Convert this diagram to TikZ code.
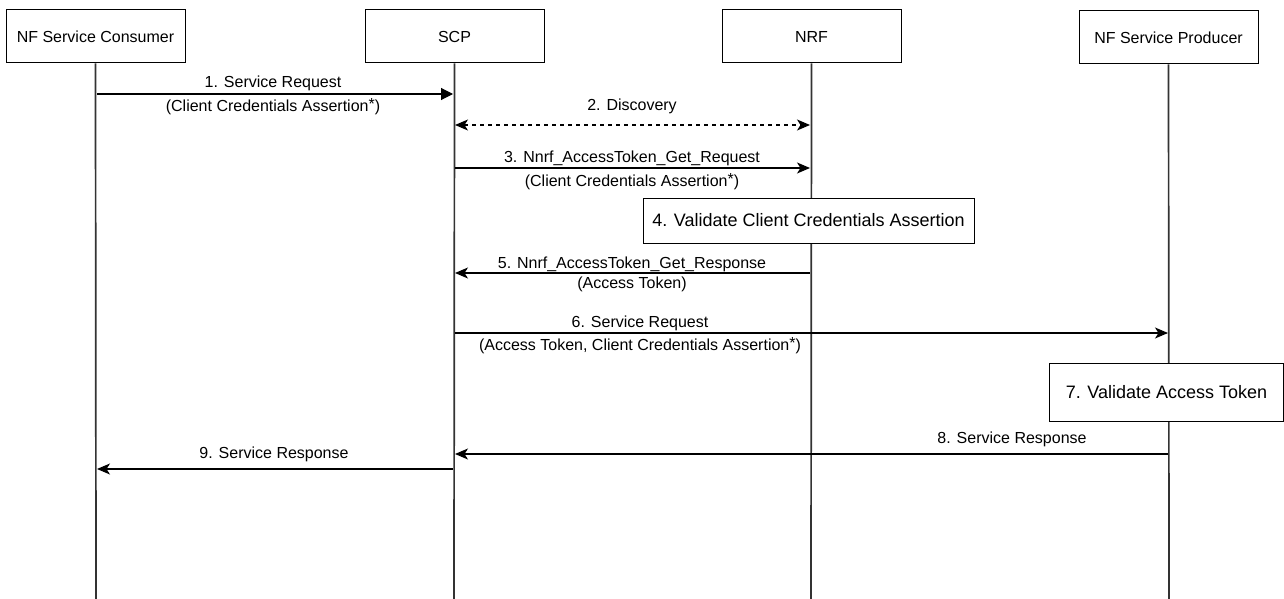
\documentclass[tikz,border=0pt]{standalone}
\usepackage{fontspec}
\setmainfont{Liberation Sans}
\usetikzlibrary{arrows.meta}
\newcommand{\astsup}{\raisebox{0.12em}{*}}
\begin{document}
\begin{tikzpicture}[x=1pt,y=-1pt,
  actor/.style={draw=black,line width=1pt,minimum width=179pt,minimum height=53pt,inner sep=0pt,font=\fontsize{16}{19}\selectfont},
  procbox/.style={draw=black,line width=1pt,fill=white,inner sep=0pt,font=\fontsize{18}{21}\selectfont},
  life/.style={draw=black!80,line width=1.7pt},
  msg/.style={draw=black,line width=1.1pt,-{Stealth[length=13pt,width=11pt,inset=3.5pt]}},
  msgblock/.style={draw=black,line width=1.1pt,-{Triangle[length=12pt,width=12pt]}},
  msgdash/.style={draw=black,line width=1.1pt,dash pattern=on 4pt off 4pt,{Stealth[length=13pt,width=11pt,inset=3.5pt]}-{Stealth[length=13pt,width=11pt,inset=3.5pt]}},
  lbl/.style={inner sep=0pt,font=\fontsize{16}{19}\selectfont}]
\useasboundingbox (0,0) rectangle (1284,599);
% actors
\node[actor] (cons) at (95.5,36.5) {NF Service Consumer};
\node[actor] (scp) at (454.5,36.5) {SCP};
\node[actor] (nrf) at (811.5,36.5) {NRF};
\node[actor] (prod) at (1168.5,37.5) {NF Service Producer};
% lifeline ends
\coordinate (consE) at (96,599);
\coordinate (scpE) at (454,599);
\coordinate (nrfE) at (811,599);
\coordinate (prodE) at (1169,599);
\draw[life] (cons.south) -- (consE);
\draw[life] (scp.south) -- (scpE);
\draw[life] (nrf.south) -- (nrfE);
\draw[life] (prod.south) -- (prodE);
% message points
\coordinate (c1) at (97,94);   \coordinate (s1) at (453,94);
\coordinate (s2) at (455,125); \coordinate (n2) at (810,125);
\coordinate (s3) at (455,168); \coordinate (n3) at (810,168);
\coordinate (n5) at (810,273); \coordinate (s5) at (455,273);
\coordinate (s6) at (455,333); \coordinate (p6) at (1168,333);
\coordinate (p8) at (1168,454); \coordinate (s8) at (455,454);
\coordinate (s9) at (453,469); \coordinate (c9) at (97,469);
% processing boxes
\node[procbox,minimum width=331pt,minimum height=45pt] (v4) at (808.5,220.5) {4. Validate Client Credentials Assertion};
\node[procbox,minimum width=234pt,minimum height=58pt] (v7) at (1166.5,392) {7. Validate Access Token};
% messages
\draw[msgblock] (c1) -- (s1);
\node[lbl] (l1a) at (273,83) {1. Service Request};
\node[lbl] (l1b) at (273,107) {(Client Credentials Assertion\astsup)};
\draw[msgdash] (s2) -- (n2);
\node[lbl] (l2) at (632,106) {2. Discovery};
\draw[msg] (s3) -- (n3);
\node[lbl] (l3a) at (632,158) {3. Nnrf\_AccessToken\_Get\_Request};
\node[lbl] (l3b) at (632,182) {(Client Credentials Assertion\astsup)};
\draw[msg] (n5) -- (s5);
\node[lbl] (l5a) at (632,264) {5. Nnrf\_AccessToken\_Get\_Response};
\node[lbl] (l5b) at (632,284) {(Access Token)};
\draw[msg] (s6) -- (p6);
\node[lbl] (l6a) at (640,323) {6. Service Request};
\node[lbl] (l6b) at (640,346) {(Access Token, Client Credentials Assertion\astsup)};
\draw[msg] (p8) -- (s8);
\node[lbl] (l8) at (1012,439) {8. Service Response};
\draw[msg] (s9) -- (c9);
\node[lbl] (l9) at (274,454) {9. Service Response};
\end{tikzpicture}
\end{document}
